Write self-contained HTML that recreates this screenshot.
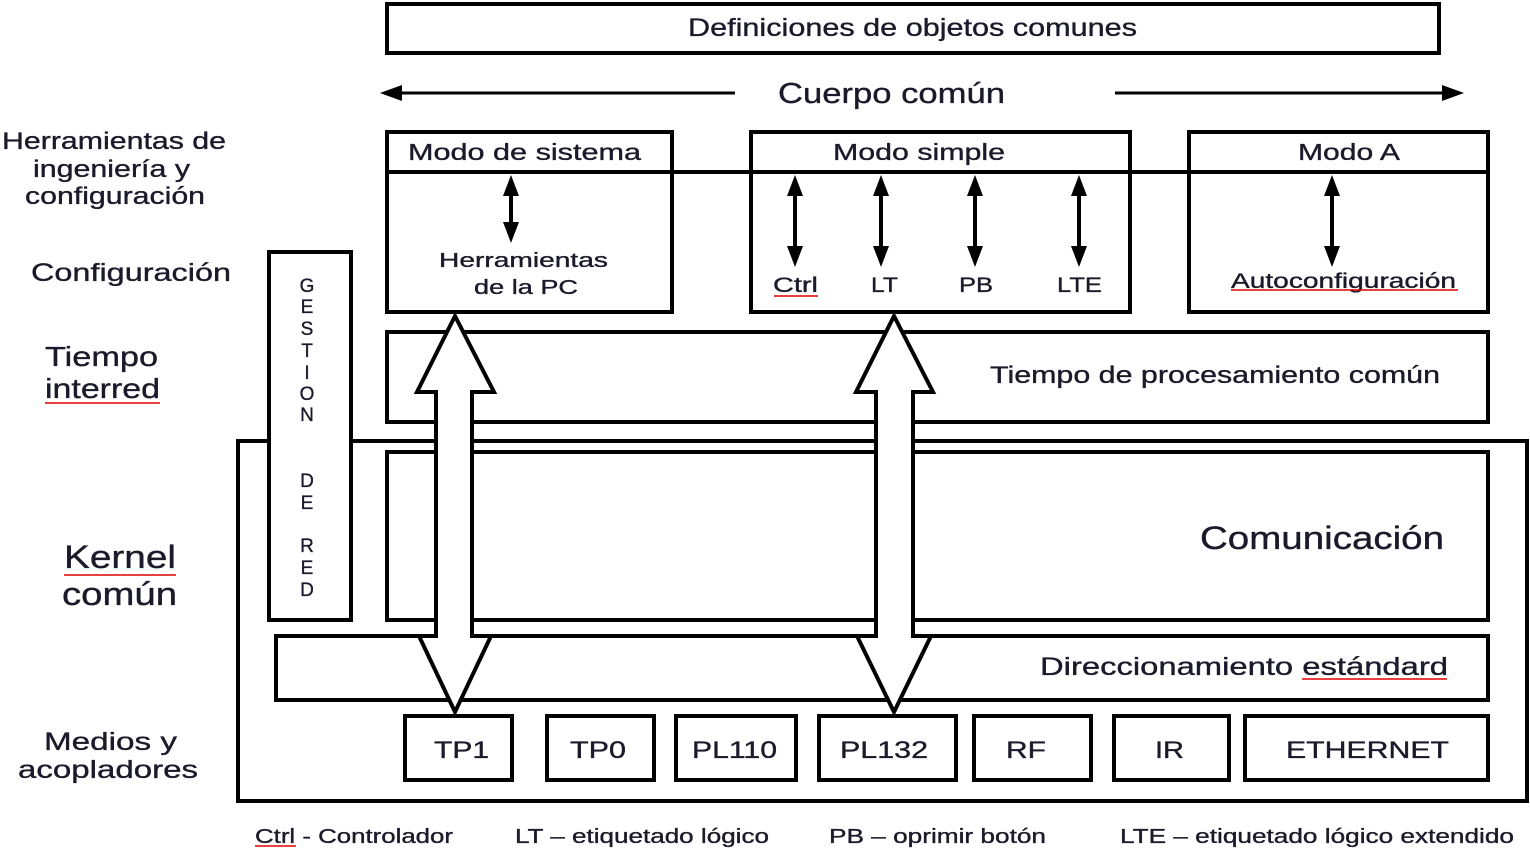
<!DOCTYPE html>
<html><head><meta charset="utf-8"><style>
html,body{margin:0;padding:0;background:#fff;}
svg{display:block;}
text{font-family:"Liberation Sans",Arial,sans-serif;fill:#1a1a2a;stroke:#1a1a2a;stroke-width:0.35;}
</style></head><body>
<svg width="1530" height="849" viewBox="0 0 1530 849" xmlns="http://www.w3.org/2000/svg">
<g fill="none" stroke="#000" stroke-width="4">
<rect x="387" y="4" width="1052" height="49"/>
<rect x="238" y="441" width="1289" height="360"/>
<rect x="387" y="132" width="285" height="180" fill="#fff"/>
<rect x="751" y="132" width="379" height="180" fill="#fff"/>
<rect x="1189" y="132" width="299" height="180" fill="#fff"/>
<line x1="387" y1="172" x2="1488" y2="172"/>
<rect x="387" y="332" width="1101" height="90" fill="#fff"/>
<rect x="269" y="252" width="82" height="368" fill="#fff"/>
<rect x="387" y="452" width="1101" height="168" fill="#fff"/>
<rect x="276" y="636" width="1212" height="64" fill="#fff"/>
<rect x="405" y="716" width="107" height="64" fill="#fff"/>
<rect x="547" y="716" width="107" height="64" fill="#fff"/>
<rect x="676" y="716" width="120" height="64" fill="#fff"/>
<rect x="819" y="716" width="137" height="64" fill="#fff"/>
<rect x="974" y="716" width="117" height="64" fill="#fff"/>
<rect x="1114" y="716" width="115" height="64" fill="#fff"/>
<rect x="1245" y="716" width="243" height="64" fill="#fff"/>
</g>
<g stroke="#000" stroke-width="3">
<line x1="735" y1="93" x2="395" y2="93"/>
<path d="M380,93 L402,85 L402,101 z" fill="#000" stroke="none"/>
<line x1="1115" y1="93" x2="1448" y2="93"/>
<path d="M1464,93 L1442,85 L1442,101 z" fill="#000" stroke="none"/>
</g>
<g stroke="#000" stroke-width="4" fill="#000">
<line x1="511" y1="190" x2="511" y2="228"/>
<path d="M511,175 L503,196 L519,196 z M511,243 L503,222 L519,222 z" stroke="none"/>
<line x1="795" y1="190" x2="795" y2="252"/>
<path d="M795,175 L787,196 L803,196 z M795,267 L787,246 L803,246 z" stroke="none"/>
<line x1="881" y1="190" x2="881" y2="252"/>
<path d="M881,175 L873,196 L889,196 z M881,267 L873,246 L889,246 z" stroke="none"/>
<line x1="975" y1="190" x2="975" y2="252"/>
<path d="M975,175 L967,196 L983,196 z M975,267 L967,246 L983,246 z" stroke="none"/>
<line x1="1079" y1="190" x2="1079" y2="252"/>
<path d="M1079,175 L1071,196 L1087,196 z M1079,267 L1071,246 L1087,246 z" stroke="none"/>
<line x1="1332" y1="190" x2="1332" y2="252"/>
<path d="M1332,175 L1324,196 L1340,196 z M1332,267 L1324,246 L1340,246 z" stroke="none"/>
</g>
<g fill="#fff" stroke="#000" stroke-width="4" stroke-linejoin="miter">
<path d="M455,316 L494,392 L472,392 L472,636 L491,636 L455,712 L419,636 L436,636 L436,392 L417,392 Z"/>
<path d="M894,316 L933,392 L913,392 L913,636 L931,636 L894,712 L857,636 L876,636 L876,392 L856,392 Z"/>
</g>
<g font-size="25" lengthAdjust="spacingAndGlyphs">
<text x="688" y="36" textLength="449" lengthAdjust="spacingAndGlyphs">Definiciones de objetos comunes</text>
<text x="778" y="103" font-size="29" textLength="227" lengthAdjust="spacingAndGlyphs">Cuerpo común</text>
<text x="408" y="160" font-size="23" textLength="233" lengthAdjust="spacingAndGlyphs">Modo de sistema</text>
<text x="833" y="160" font-size="23" textLength="172" lengthAdjust="spacingAndGlyphs">Modo simple</text>
<text x="1298" y="160" font-size="23" textLength="102" lengthAdjust="spacingAndGlyphs">Modo A</text>
<text x="439" y="267" font-size="20" textLength="169" lengthAdjust="spacingAndGlyphs">Herramientas</text>
<text x="474" y="294" font-size="20" textLength="104" lengthAdjust="spacingAndGlyphs">de la PC</text>
<text x="773" y="292" font-size="21" textLength="45" lengthAdjust="spacingAndGlyphs">Ctrl</text>
<text x="871" y="292" font-size="21" textLength="27" lengthAdjust="spacingAndGlyphs">LT</text>
<text x="959" y="292" font-size="21" textLength="34" lengthAdjust="spacingAndGlyphs">PB</text>
<text x="1057" y="292" font-size="21" textLength="45" lengthAdjust="spacingAndGlyphs">LTE</text>
<text x="1231" y="288" font-size="21" textLength="225" lengthAdjust="spacingAndGlyphs">Autoconfiguración</text>
<text x="990" y="383" font-size="24" textLength="450" lengthAdjust="spacingAndGlyphs">Tiempo de procesamiento común</text>
<text x="1200" y="549" font-size="32" textLength="244" lengthAdjust="spacingAndGlyphs">Comunicación</text>
<text x="1040" y="675" font-size="25" textLength="408" lengthAdjust="spacingAndGlyphs">Direccionamiento estándard</text>
<text x="434" y="758" font-size="24" textLength="55" lengthAdjust="spacingAndGlyphs">TP1</text>
<text x="570" y="758" font-size="24" textLength="56" lengthAdjust="spacingAndGlyphs">TP0</text>
<text x="692" y="758" font-size="24" textLength="85" lengthAdjust="spacingAndGlyphs">PL110</text>
<text x="840" y="758" font-size="24" textLength="88" lengthAdjust="spacingAndGlyphs">PL132</text>
<text x="1006" y="758" font-size="24" textLength="40" lengthAdjust="spacingAndGlyphs">RF</text>
<text x="1155" y="758" font-size="24" textLength="29" lengthAdjust="spacingAndGlyphs">IR</text>
<text x="1286" y="758" font-size="24" textLength="163" lengthAdjust="spacingAndGlyphs">ETHERNET</text>
<text x="2" y="149" font-size="24" textLength="224" lengthAdjust="spacingAndGlyphs">Herramientas de</text>
<text x="33" y="177" font-size="24" textLength="157" lengthAdjust="spacingAndGlyphs">ingeniería y</text>
<text x="25" y="204" font-size="24" textLength="180" lengthAdjust="spacingAndGlyphs">configuración</text>
<text x="31" y="281" font-size="25" textLength="200" lengthAdjust="spacingAndGlyphs">Configuración</text>
<text x="45" y="366" font-size="28" textLength="113" lengthAdjust="spacingAndGlyphs">Tiempo</text>
<text x="45" y="398" font-size="28" textLength="115" lengthAdjust="spacingAndGlyphs">interred</text>
<text x="64" y="568" font-size="32" textLength="112" lengthAdjust="spacingAndGlyphs">Kernel</text>
<text x="62" y="605" font-size="32" textLength="115" lengthAdjust="spacingAndGlyphs">común</text>
<text x="44" y="750" font-size="25" textLength="133" lengthAdjust="spacingAndGlyphs">Medios y</text>
<text x="18" y="778" font-size="25" textLength="180" lengthAdjust="spacingAndGlyphs">acopladores</text>
<text x="255" y="843" font-size="20" textLength="198" lengthAdjust="spacingAndGlyphs">Ctrl - Controlador</text>
<text x="515" y="843" font-size="20" textLength="254" lengthAdjust="spacingAndGlyphs">LT – etiquetado lógico</text>
<text x="829" y="843" font-size="20" textLength="217" lengthAdjust="spacingAndGlyphs">PB – oprimir botón</text>
<text x="1120" y="843" font-size="20" textLength="394" lengthAdjust="spacingAndGlyphs">LTE – etiquetado lógico extendido</text>
</g>
<g font-size="19" text-anchor="middle">
<text x="307" y="292">G</text><text x="307" y="313">E</text><text x="307" y="335">S</text><text x="307" y="357">T</text><text x="307" y="379">I</text><text x="307" y="400">O</text><text x="307" y="421">N</text>
<text x="307" y="487">D</text><text x="307" y="509">E</text>
<text x="307" y="552">R</text><text x="307" y="574">E</text><text x="307" y="596">D</text>
</g>
<g stroke="#d00" stroke-width="1.5" fill="none">
<line x1="774" y1="296" x2="818" y2="296"/>
<line x1="1231" y1="290" x2="1458" y2="290"/>
<line x1="1302" y1="679" x2="1447" y2="679"/>
<line x1="45" y1="403" x2="160" y2="403"/>
<line x1="64" y1="575" x2="176" y2="575"/>
<line x1="255" y1="846" x2="296" y2="846"/>
</g>
</svg>
</body></html>
